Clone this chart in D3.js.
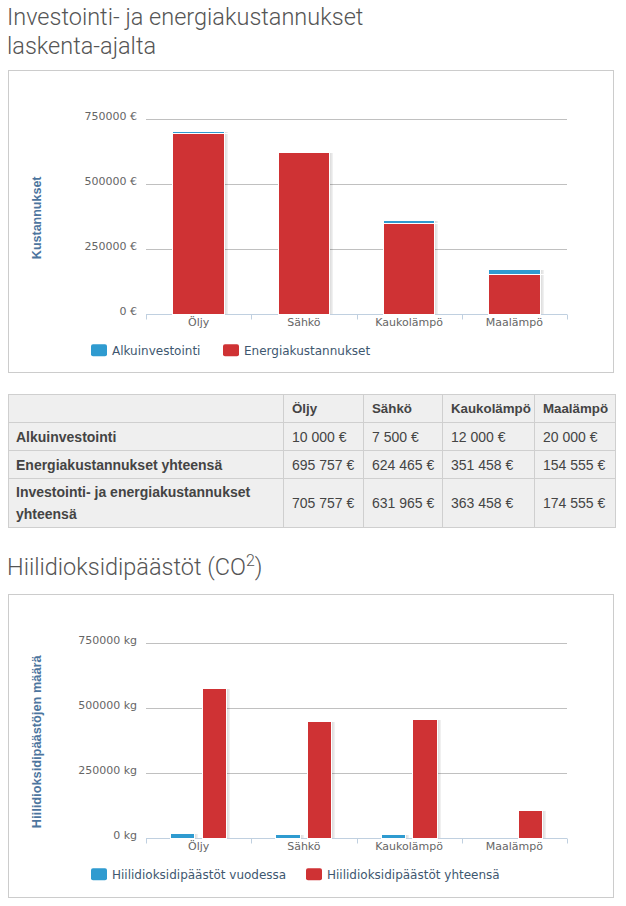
<!DOCTYPE html>
<html>
<head>
<meta charset="utf-8">
<script src="https://cdn.jsdelivr.net/npm/d3@7"></script>
<style>
  html, body { margin: 0; padding: 0; background: #fff; }
  body { width: 626px; height: 906px; position: relative; overflow: hidden; }
  .title { position: absolute; left: 7px; font-family: Roboto, "Open Sans", sans-serif; font-weight: 300; font-size: 23.5px; color: #555; line-height: 29px; }
  .box { position: absolute; left: 8px; width: 606px; border: 1px solid #ccc; box-sizing: border-box; }
  svg { position: absolute; left: 0; top: 0; }
  table { position: absolute; left: 8px; top: 394px; width: 607px; table-layout: fixed; border-collapse: collapse; font-family: "Liberation Sans", Arial, sans-serif; font-size: 14px; color: #444; }
  td, th { border: 1px solid #cfcfcf; background: #efefef; padding: 0 2px 0 8px; text-align: left; vertical-align: middle; white-space: nowrap; overflow: hidden; }
  th { font-weight: bold; font-size: 13.3px; }
  td.lab { font-weight: bold; white-space: normal; padding-left: 7px; }
  sup { font-size: 16px; vertical-align: 9px; line-height: 0; }
</style>
</head>
<body>
<div class="title" style="top:3px;">Investointi- ja energiakustannukset<br>laskenta-ajalta</div>
<div class="box" style="top:70px;height:303px;"></div>
<div class="title" style="top:553px;">Hiilidioksidipäästöt (CO<sup>2</sup>)</div>
<div class="box" style="top:594px;height:304px;"></div>
<table id="tbl"></table>
<svg id="chart" width="626" height="906"></svg>
<script>
const categories = ["Öljy", "Sähkö", "Kaukolämpö", "Maalämpö"];
const investment = [10000, 7500, 12000, 20000];
const energy = [695757, 624465, 351458, 154555];
const totalCost = [705757, 631965, 363458, 174555];
const co2Yearly = [20000, 16000, 16000, 0];
const co2Total = [578000, 452000, 460000, 110000];
const yTicks = [0, 250000, 500000, 750000];
const costSeries = ["Alkuinvestointi", "Energiakustannukset"];
const co2Series = ["Hiilidioksidipäästöt vuodessa", "Hiilidioksidipäästöt yhteensä"];
const rowLabels = ["Alkuinvestointi", "Energiakustannukset yhteensä", "Investointi- ja energiakustannukset yhteensä"];
const colors = ["#2f9bd0", "#cf3234"];

// ---------- table ----------
const fmtEur = v => d3.format(",")(v).replace(/,/g, " ") + " €";
const tbl = d3.select("#tbl");
const colW = [275, 80, 79, 92, 81];
const cg = tbl.append("colgroup");
colW.forEach(w => cg.append("col").style("width", w + "px"));
const hr = tbl.append("tr").style("height", "28px");
hr.append("th");
categories.forEach(c => hr.append("th").text(c));
[investment, energy, totalCost].forEach((arr, r) => {
  const tr = tbl.append("tr").style("height", r === 2 ? "49px" : "28px");
  tr.append("td").attr("class", "lab").style("line-height", "22px").text(rowLabels[r]);
  arr.forEach(v => tr.append("td").text(fmtEur(v)));
});

// ---------- charts ----------
const svg = d3.select("#chart");
const font = "DejaVu Sans, Verdana, sans-serif";

function drawChart(opt) {
  const g = svg.append("g");
  const x = d3.scaleBand().domain(categories).range([146, 567]);
  const y = d3.scaleLinear().domain([0, 750000]).range([opt.y0, opt.y0 - 195]);
  const bw = x.bandwidth();

  g.selectAll(".grid").data(yTicks.filter(t => t > 0)).join("line")
    .attr("x1", 146).attr("x2", 567)
    .attr("y1", d => Math.round(y(d)) + 0.5).attr("y2", d => Math.round(y(d)) + 0.5)
    .attr("stroke", "#c0c0c0").attr("stroke-width", 1);

  g.selectAll(".yl").data(yTicks).join("text")
    .attr("x", 137).attr("y", d => y(d) + 1)
    .attr("text-anchor", "end").attr("font-family", font).attr("font-size", 11).attr("fill", "#666")
    .text(d => d + " " + opt.unit);

  g.append("text")
    .attr("transform", `translate(${41},${(opt.y0 + y(750000)) / 2 + 1}) rotate(-90)`)
    .attr("text-anchor", "middle").attr("font-family", "Liberation Sans, Arial, sans-serif")
    .attr("font-weight", "bold").attr("font-size", opt.titleSize).attr("fill", "#4d759e")
    .text(opt.yTitle);

  const yb = Math.round(opt.y0) + 0.5;
  g.append("line").attr("x1", 146).attr("x2", 567).attr("y1", yb).attr("y2", yb)
    .attr("stroke", "#c0d0e0");
  const tickX = categories.map(c => x(c)).concat([567]);
  g.selectAll(".tk").data(tickX).join("line")
    .attr("x1", d => Math.round(d) + 0.5).attr("x2", d => Math.round(d) + 0.5)
    .attr("y1", yb).attr("y2", yb + 5).attr("stroke", "#c0d0e0");
  g.selectAll(".xl").data(categories).join("text")
    .attr("x", d => x(d) + bw / 2).attr("y", opt.y0 + 12)
    .attr("text-anchor", "middle").attr("font-family", font).attr("font-size", 11).attr("fill", "#666")
    .text(d => d);

  function bar(x0, w, v0, v1, color) {
    if (y(v0) - y(v1) < 2.2) return; // too thin: hidden under the white border
    const top = Math.round(y(v1)), bot = Math.round(y(v0));
    const xl = Math.round(x0), xr = Math.round(x0 + w);
    g.append("rect").attr("x", xr).attr("y", top + 1).attr("width", 3).attr("height", bot - top - 1)
      .attr("fill", "#000").attr("opacity", 0.06);
    g.append("rect").attr("x", xr).attr("y", top + 1).attr("width", 1.5).attr("height", bot - top - 1)
      .attr("fill", "#000").attr("opacity", 0.07);
    g.append("rect").attr("x", xl + 0.5).attr("y", top + 0.5)
      .attr("width", xr - xl - 1).attr("height", bot - top)
      .attr("fill", color).attr("stroke", "#fff").attr("stroke-width", 1);
  }

  if (opt.stacked) {
    const xs = d3.scaleBand().domain([0]).range([0.2 * bw, 0.8 * bw]).paddingInner(0).paddingOuter(0.1);
    categories.forEach((c, i) => {
      const x0 = x(c) + xs(0);
      bar(x0, xs.bandwidth(), 0, opt.a[i], colors[1]);
      bar(x0, xs.bandwidth(), opt.a[i], opt.a[i] + opt.b[i], colors[0]);
    });
  } else {
    const xs = d3.scaleBand().domain([0, 1]).range([0.2 * bw, 0.8 * bw]).paddingInner(0.2).paddingOuter(0.1);
    categories.forEach((c, i) => {
      bar(x(c) + xs(0), xs.bandwidth(), 0, opt.a[i], colors[0]);
      bar(x(c) + xs(1), xs.bandwidth(), 0, opt.b[i], colors[1]);
    });
  }

  const ly = opt.y0 + 30;
  let lx = 91;
  opt.legend.forEach((name, i) => {
    g.append("rect").attr("x", lx).attr("y", ly).attr("width", 16).attr("height", 12)
      .attr("rx", 2).attr("fill", colors[i]);
    g.append("text").attr("x", lx + 21).attr("y", ly + 11)
      .attr("font-family", font).attr("font-size", 12).attr("fill", "#3e576f").text(name);
    lx += opt.legendStep[i];
  });
}

drawChart({ y0: 314.3, unit: "€", yTitle: "Kustannukset", titleSize: 12.5, stacked: true,
  a: energy, b: investment, legend: costSeries, legendStep: [132] });
drawChart({ y0: 838.3, unit: "kg", yTitle: "Hiilidioksidipäästöjen määrä", titleSize: 12.8, stacked: false,
  a: co2Yearly, b: co2Total, legend: co2Series, legendStep: [215] });
</script>
</body>
</html>
